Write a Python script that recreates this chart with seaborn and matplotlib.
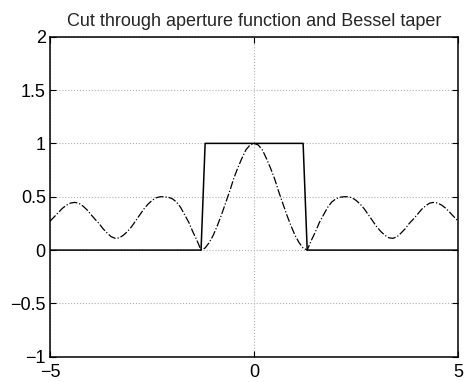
import matplotlib
matplotlib.use("Agg")
import matplotlib.pyplot as plt
import seaborn as sns
import pandas as pd

# Sample positions along the cut, -5 .. 5 in steps of 0.1
x_pos = [round(-5 + 0.1 * i, 1) for i in range(101)]

# Aperture (rect) function along the cut
aperture = [
    0, 0, 0, 0, 0, 0, 0, 0, 0, 0,
    0, 0, 0, 0, 0, 0, 0, 0, 0, 0,
    0, 0, 0, 0, 0, 0, 0, 0, 0, 0,
    0, 0, 0, 0, 0, 0, 0, 0,
    1, 1, 1, 1, 1, 1, 1, 1, 1, 1, 1, 1,
    1,
    1, 1, 1, 1, 1, 1, 1, 1, 1, 1, 1, 1,
    0, 0, 0, 0, 0, 0, 0, 0,
    0, 0, 0, 0, 0, 0, 0, 0, 0, 0,
    0, 0, 0, 0, 0, 0, 0, 0, 0, 0,
    0, 0, 0, 0, 0, 0, 0, 0, 0, 0,
]

# Bessel taper along the cut
bessel = [
    0.27, 0.31, 0.35, 0.39, 0.42, 0.44, 0.447, 0.44, 0.415, 0.38,
    0.335, 0.29, 0.25, 0.20, 0.16, 0.125, 0.11, 0.115, 0.14, 0.175,
    0.22, 0.275, 0.33, 0.385, 0.43, 0.465, 0.49, 0.50, 0.50, 0.495,
    0.48, 0.45, 0.40, 0.33, 0.26, 0.17, 0.09, 0.0,
    0.02, 0.07, 0.14, 0.23, 0.33, 0.44, 0.55, 0.67, 0.77, 0.86, 0.94, 0.985,
    1.0,
    0.985, 0.94, 0.86, 0.77, 0.67, 0.55, 0.44, 0.33, 0.23, 0.14, 0.07, 0.02,
    0.0, 0.09, 0.17, 0.26, 0.33, 0.40, 0.45, 0.48,
    0.495, 0.50, 0.50, 0.49, 0.465, 0.43, 0.385, 0.33, 0.275, 0.22,
    0.175, 0.14, 0.115, 0.11, 0.125, 0.16, 0.20, 0.25, 0.29, 0.335,
    0.38, 0.415, 0.44, 0.447, 0.44, 0.42, 0.39, 0.35, 0.31, 0.27,
]

x_ticks = [-5, 0, 5]
y_ticks = [-1, -0.5, 0, 0.5, 1, 1.5, 2]
y_tick_labels = ["\u22121", "\u22120.5", "0", "0.5", "1", "1.5", "2"]
x_tick_labels = ["\u22125", "0", "5"]
title = "Cut through aperture function and Bessel taper"

df = pd.DataFrame({"x": x_pos, "aperture": aperture, "bessel": bessel})

sns.set_theme(style="white")
plt.rcParams["font.family"] = ["Liberation Sans", "DejaVu Sans"]
plt.rcParams["axes.unicode_minus"] = True

fig = plt.figure(figsize=(4.65, 3.82), dpi=100)
ax = fig.add_axes([0.1075, 0.066, 0.878, 0.838])

sns.lineplot(data=df, x="x", y="aperture", ax=ax, color="black",
             linewidth=1.1, sort=False, estimator=None)
sns.lineplot(data=df, x="x", y="bessel", ax=ax, color="black",
             linewidth=0.9, linestyle="-.", sort=False, estimator=None)

ax.set_xlim(-5, 5)
ax.set_ylim(-1, 2)
ax.set_xticks(x_ticks)
ax.set_xticklabels(x_tick_labels)
ax.set_yticks(y_ticks)
ax.set_yticklabels(y_tick_labels)
ax.set_xlabel("")
ax.set_ylabel("")
ax.set_title(title, fontsize=13, pad=8)

ax.grid(True, linestyle=":", color="#b0b0b0", linewidth=0.8)
for s in ax.spines.values():
    s.set_color("black")
    s.set_linewidth(1.1)
ax.tick_params(direction="in", length=4, width=0.8, colors="black",
               labelsize=13, top=True, right=True, bottom=True, left=True)
ax.tick_params(axis="x", pad=5)
ax.tick_params(axis="y", pad=3)

fig.savefig("out.png", dpi=100, facecolor="white")
